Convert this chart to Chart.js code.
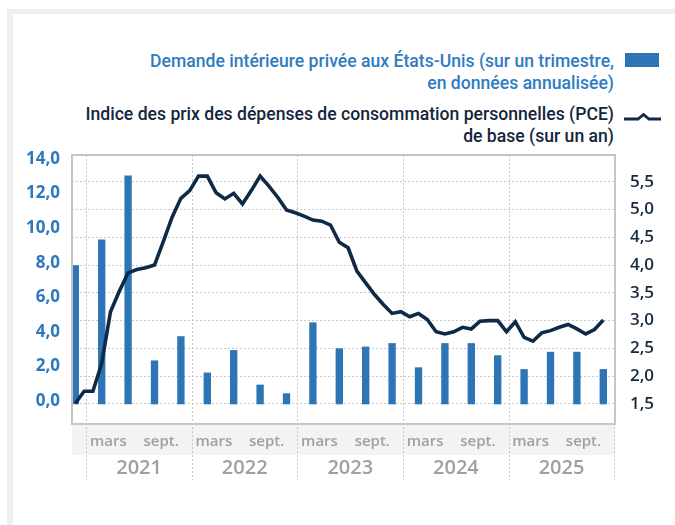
<!DOCTYPE html>
<html lang="fr">
<head>
<meta charset="utf-8">
<script src="https://cdn.jsdelivr.net/npm/chart.js@4.4.1/dist/chart.umd.min.js"></script>
<style>
    html, body { margin: 0; padding: 0; background: #fff; }
    body { width: 675px; height: 525px; position: relative; overflow: hidden; font-family: Roboto, "Open Sans", sans-serif; }
    .edge-top { position: absolute; left: 7px; top: 9px; right: 0; height: 5px; background: #efefef; }
    .edge-left { position: absolute; left: 7px; top: 9px; width: 6px; bottom: 0; background: #efefef; }
    .legend { position: absolute; right: 61px; text-align: right; font-size: 17.6px; line-height: 21.7px; font-weight: 500; white-space: nowrap; }
    .legend.bars { top: 51px; color: #2f7bc2; }
    .legend.line { top: 104px; color: #13263d; }
    .swatch { position: absolute; left: 625px; top: 53px; width: 34px; height: 14px; background: #2e75b6; }
    .line-key { position: absolute; left: 624px; top: 110px; }
    #chart { position: absolute; left: 0; top: 0; }
</style>
</head>
<body>
<div class="edge-top"></div>
<div class="edge-left"></div>

<div class="legend bars">Demande intérieure privée aux États-Unis (sur un trimestre,<br>en données annualisée)</div>
<div class="swatch"></div>
<div class="legend line">Indice des prix des dépenses de consommation personnelles (PCE)<br>de base (sur un an)</div>
<svg class="line-key" width="38" height="14">
    <polyline points="0,9 14,9 19.5,4.5 25,9 37,9" fill="none" stroke="#0e2a47" stroke-width="2.8"/>
</svg>

<canvas id="chart" width="675" height="525"></canvas>

<script>
// quarterly private domestic demand, annualised % (Q4 2020 .. Q4 2025)
const quarters = ['T4 2020',
    'T1 2021', 'T2 2021', 'T3 2021', 'T4 2021',
    'T1 2022', 'T2 2022', 'T3 2022', 'T4 2022',
    'T1 2023', 'T2 2023', 'T3 2023', 'T4 2023',
    'T1 2024', 'T2 2024', 'T3 2024', 'T4 2024',
    'T1 2025', 'T2 2025', 'T3 2025', 'T4 2025'];
const demand = [8.0,
    9.5, 13.2, 2.5, 3.9,
    1.8, 3.1, 1.1, 0.6,
    4.7, 3.2, 3.3, 3.5,
    2.1, 3.5, 3.5, 2.8,
    2.0, 3.0, 3.0, 2.0];

// core PCE, y/y %, monthly from Nov 2020 to Nov 2025
const pceCore = [
    1.51, 1.73,
    1.73, 2.23, 3.16, 3.53, 3.86, 3.92, 3.95, 4.00, 4.42, 4.86, 5.20, 5.34,   // 2021
    5.60, 5.60, 5.30, 5.19, 5.29, 5.10, 5.34, 5.60, 5.42, 5.22, 4.99, 4.94,   // 2022
    4.88, 4.81, 4.79, 4.72, 4.41, 4.31, 3.89, 3.68, 3.47, 3.29, 3.13, 3.16,   // 2023
    3.07, 3.13, 3.02, 2.80, 2.76, 2.80, 2.88, 2.85, 2.99, 3.00, 3.00, 2.80,   // 2024
    2.98, 2.70, 2.63, 2.78, 2.82, 2.88, 2.93, 2.85, 2.76, 2.84, 3.01          // 2025
];

const years = ['2021', '2022', '2023', '2024', '2025'];
const monthNames = ['mars', 'sept.'];
const leftTicks = [0, 2, 4, 6, 8, 10, 12, 14];
const rightTicks = [1.5, 2, 2.5, 3, 3.5, 4, 4.5, 5, 5.5];

const colors = {
    bar: '#2e75b6',
    line: '#0e2a47',
    leftText: '#2e78bd',
    rightText: '#17293f',
    axisText: '#a0a0a0',
    grid: '#c8c8c8',
    frame: '#c6c6c6',
    band: '#f3f3f3'
};

// x is in months, 0 = 1 Jan 2021; first data month (Nov 2020) is index -2
// values are drawn a bit past mid-month, as in the original
const firstMonth = -2;
const monthPos = i => firstMonth + i + 0.75;

const linePoints = pceCore.map((v, i) => ({ x: monthPos(i), y: v }));
const barPoints = demand.map((v, i) => ({ x: monthPos(i * 3), y: v }));

const monthTicks = [];
years.forEach((y, k) => {
    monthTicks.push({ value: 12 * k + 2.5, label: monthNames[0] });
    monthTicks.push({ value: 12 * k + 8.5, label: monthNames[1] });
});
const yearTicks = years.map((y, k) => ({ value: 12 * k + 6, label: y }));
const yearStarts = years.map((y, k) => 12 * k).concat([12 * years.length]);

const fmt = v => v.toFixed(1).replace('.', ',');

// band under the plot, dotted year separators, grey frame
const decor = {
    id: 'decor',
    beforeDraw(chart) {
        const { ctx, chartArea: a, scales } = chart;
        const xs = scales.x, ys = scales.xy;
        ctx.save();
        ctx.fillStyle = colors.band;
        ctx.fillRect(a.left, xs.top, a.right - a.left, xs.bottom - xs.top);
        ctx.strokeStyle = colors.grid;
        ctx.lineWidth = 1;
        ctx.setLineDash([2, 2]);
        yearStarts.forEach(v => {
            const px = Math.round(xs.getPixelForValue(v)) + 0.5;
            ctx.beginPath();
            ctx.moveTo(px, a.top);
            ctx.lineTo(px, ys.bottom);
            ctx.stroke();
        });
        ctx.restore();
    },
    afterDatasetsDraw(chart) {
        const { ctx, chartArea: a } = chart;
        ctx.save();
        ctx.strokeStyle = colors.frame;
        ctx.lineWidth = 2;
        ctx.strokeRect(a.left, a.top, a.right - a.left, a.bottom - a.top);
        ctx.restore();
    }
};

Chart.defaults.font.family = '"Open Sans", sans-serif';

new Chart(document.getElementById('chart'), {
    type: 'bar',
    data: {
        datasets: [{
            type: 'line',
            label: 'PCE de base',
            data: linePoints,
            xAxisID: 'x',
            yAxisID: 'yR',
            borderColor: colors.line,
            borderWidth: 3.6,
            pointRadius: 0,
            tension: 0,
            order: 0
        }, {
            type: 'bar',
            label: 'Demande intérieure privée',
            data: barPoints,
            xAxisID: 'x',
            yAxisID: 'yL',
            backgroundColor: colors.bar,
            barThickness: 6.7,
            order: 1
        }]
    },
    options: {
        responsive: false,
        animation: false,
        events: [],
        layout: { padding: { top: 155, left: 0, right: 0, bottom: 45 } },
        plugins: {
            legend: { display: false },
            tooltip: { enabled: false }
        },
        scales: {
            x: {
                type: 'linear',
                position: 'bottom',
                offset: false,
                min: -1.625,
                max: 60.08,
                weight: 0,
                grid: { display: false, drawTicks: false },
                border: { display: false },
                afterBuildTicks: s => { s.ticks = monthTicks.map(t => ({ value: t.value })); },
                afterFit: s => { s.height = 31; },
                ticks: {
                    autoSkip: false,
                    maxRotation: 0,
                    padding: 8.7,
                    color: colors.axisText,
                    font: { size: 15, weight: '600' },
                    callback: v => (monthTicks.find(t => t.value === v) || {}).label
                }
            },
            xy: {
                type: 'linear',
                position: 'bottom',
                offset: false,
                min: -1.625,
                max: 60.08,
                weight: 1,
                grid: { display: false, drawTicks: false },
                border: { display: false },
                afterBuildTicks: s => { s.ticks = yearTicks.map(t => ({ value: t.value })); },
                afterFit: s => { s.height = 25; },
                ticks: {
                    autoSkip: false,
                    maxRotation: 0,
                    padding: 1.3,
                    color: colors.axisText,
                    font: { size: 20, weight: '600' },
                    callback: v => (yearTicks.find(t => t.value === v) || {}).label
                }
            },
            yL: {
                type: 'linear',
                position: 'left',
                min: -1.157,
                max: 14.4,
                grid: { display: false, drawTicks: false },
                border: { display: false },
                afterBuildTicks: s => { s.ticks = leftTicks.map(v => ({ value: v })); },
                afterFit: s => { s.width = 72; },
                ticks: {
                    padding: 12,
                    labelOffset: -3,
                    color: colors.leftText,
                    font: { size: 17, weight: 'bold' },
                    callback: v => fmt(v)
                }
            },
            yR: {
                type: 'linear',
                position: 'right',
                min: 1.14,
                max: 5.98,
                grid: { color: colors.grid, drawTicks: false },
                border: { display: false, dash: [2, 2] },
                afterBuildTicks: s => { s.ticks = rightTicks.map(v => ({ value: v })); },
                afterFit: s => { s.width = 60; },
                ticks: {
                    padding: 15,
                    color: colors.rightText,
                    font: { size: 17, weight: '600' },
                    callback: v => fmt(v)
                }
            }
        }
    },
    plugins: [decor]
});
</script>
</body>
</html>
